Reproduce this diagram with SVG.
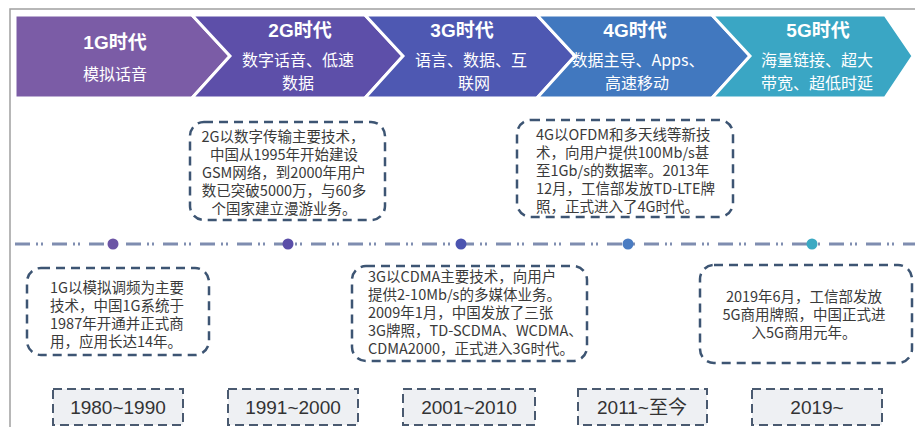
<svg xmlns="http://www.w3.org/2000/svg" width="915" height="427" viewBox="0 0 915 427">
<style>
.t{font-family:"Liberation Sans","Noto Sans CJK SC",sans-serif;font-weight:bold;font-size:19px;fill:#fff;text-anchor:middle}
.s{font-family:"Noto Sans CJK SC",sans-serif;font-size:16px;fill:#fff;text-anchor:middle}
.bx{fill:#fff;stroke:#3d5573;stroke-width:2.5;stroke-dasharray:9 6}
.bt{font-family:"Noto Sans CJK SC",sans-serif;font-size:14.5px;fill:#3a3a3a}
.yb{fill:#eef0f3;stroke:#4a5a70;stroke-width:2;stroke-dasharray:9 5}
.yt{font-family:"Liberation Sans","Noto Sans CJK SC",sans-serif;font-size:19px;fill:#333;text-anchor:middle}
.ch{stroke:#fff;stroke-width:3;stroke-linejoin:miter}
</style>
<rect width="915" height="427" fill="#fff"/>
<rect x="10" y="9" width="912" height="430" fill="none" stroke="#a0a0a0" stroke-width="1.5"/>
<g id="era1G">
<polygon class="ch" fill="#7b5ca6" points="15,15 192,15 230,56 192,98 15,98"/>
<text class="t" x="115" y="49">1G时代</text>
<text class="s" x="115" y="80">模拟话音</text>
</g>
<g id="era2G">
<polygon class="ch" fill="#5d4fa9" points="192,15 365,15 403,56 365,98 192,98 230,56"/>
<text class="t" x="300" y="37">2G时代</text>
<text class="s" x="298" y="66">数字话音、低速</text>
<text class="s" x="298" y="89">数据</text>
</g>
<g id="era3G">
<polygon class="ch" fill="#4e58b2" points="365,15 537,15 575,56 537,98 365,98 403,56"/>
<text class="t" x="462" y="37">3G时代</text>
<text class="s" x="471" y="66">语言、数据、互</text>
<text class="s" x="474" y="89">联网</text>
</g>
<g id="era4G">
<polygon class="ch" fill="#4178bf" points="537,15 712,15 750,56 712,98 537,98 575,56"/>
<text class="t" x="635" y="37">4G时代</text>
<text class="s" x="638" y="66">数据主导、Apps、</text>
<text class="s" x="637" y="89">高速移动</text>
</g>
<g id="era5G">
<polygon class="ch" fill="#3aa6c4" points="712,15 885,15 913,56 885,98 712,98 750,56"/>
<text class="t" x="818" y="37">5G时代</text>
<text class="s" x="817" y="66">海量链接、超大</text>
<text class="s" x="817" y="89">带宽、超低时延</text>
</g>
<g id="connectors">
<line x1="15" y1="244" x2="915" y2="244" stroke="#7f8db0" stroke-width="3" stroke-dasharray="15 6 2 3 2 9"/>
</g>
<g id="dots">
<circle cx="113" cy="244" r="5.5" fill="#6c55a5"/>
<circle cx="288" cy="244" r="5.5" fill="#5a4ea8"/>
<circle cx="461" cy="244" r="5.5" fill="#4b54b0"/>
<circle cx="628" cy="244" r="5.5" fill="#4a7cc2"/>
<circle cx="812" cy="244" r="5.5" fill="#3aa9c3"/>
</g>
<g id="note2G">
<rect class="bx" x="190" y="122" width="195" height="98" rx="14"/>
<text class="bt" text-anchor="middle" x="283"><tspan x="283" y="142">2G以数字传输主要技术，</tspan><tspan x="284" y="160">中国从1995年开始建设</tspan><tspan x="284" y="178">GSM网络，到2000年用户</tspan><tspan x="284" y="196">数已突破5000万，与60多</tspan><tspan x="284" y="214">个国家建立漫游业务。</tspan></text>
</g>
<g id="note4G">
<rect class="bx" x="517" y="120" width="216" height="97" rx="14"/>
<text class="bt" x="536"><tspan x="536" y="140">4G以OFDM和多天线等新技</tspan><tspan x="536" y="158">术，向用户提供100Mb/s甚</tspan><tspan x="536" y="176">至1Gb/s的数据率。2013年</tspan><tspan x="536" y="194">12月，工信部发放TD-LTE牌</tspan><tspan x="536" y="212">照，正式进入了4G时代。</tspan></text>
</g>
<g id="note1G">
<rect class="bx" x="27" y="268" width="182" height="87" rx="14"/>
<text class="bt" x="50"><tspan x="50" y="293">1G以模拟调频为主要</tspan><tspan x="50" y="311">技术，中国1G系统于</tspan><tspan x="50" y="329">1987年开通并正式商</tspan><tspan x="50" y="347">用，应用长达14年。</tspan></text>
</g>
<g id="note3G">
<rect class="bx" x="352" y="266" width="235" height="95" rx="14"/>
<text class="bt" x="368"><tspan x="368" y="282">3G以CDMA主要技术，向用户</tspan><tspan x="368" y="300">提供2-10Mb/s的多媒体业务。</tspan><tspan x="368" y="318">2009年1月，中国发放了三张</tspan><tspan x="368" y="336">3G牌照，TD-SCDMA、WCDMA、</tspan><tspan x="368" y="354">CDMA2000，正式进入3G时代。</tspan></text>
</g>
<g id="note5G">
<rect class="bx" x="700" y="265" width="212" height="98" rx="14"/>
<text class="bt" text-anchor="middle" x="804"><tspan x="804" y="302">2019年6月，工信部发放</tspan><tspan x="804" y="320">5G商用牌照，中国正式进</tspan><tspan x="804" y="338">入5G商用元年。</tspan></text>
</g>
<g id="year1">
<rect class="yb" x="53" y="389" width="130" height="36"/>
<text class="yt" x="118" y="414">1980~1990</text>
</g>
<g id="year2">
<rect class="yb" x="228" y="389" width="130" height="36"/>
<text class="yt" x="293" y="414">1991~2000</text>
</g>
<g id="year3">
<rect class="yb" x="403" y="389" width="132" height="36"/>
<text class="yt" x="469" y="414">2001~2010</text>
</g>
<g id="year4">
<rect class="yb" x="578" y="389" width="129" height="36"/>
<text class="yt" x="642" y="414">2011~至今</text>
</g>
<g id="year5">
<rect class="yb" x="752" y="389" width="130" height="36"/>
<text class="yt" x="817" y="414">2019~</text>
</g>
</svg>
